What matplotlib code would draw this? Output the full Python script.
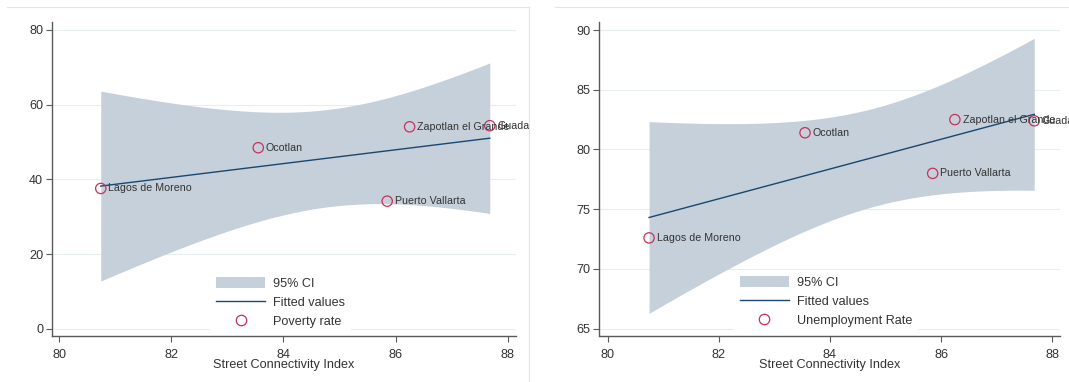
import numpy as np
import matplotlib
matplotlib.use('Agg')
import matplotlib.pyplot as plt
from matplotlib.patches import Patch, Rectangle
from matplotlib.lines import Line2D

plt.rcParams['font.family'] = ['Liberation Sans', 'DejaVu Sans']

# municipios de Jalisco
cities = ['Lagos de Moreno', 'Ocotlan', 'Zapotlan el Grande', 'Puerto Vallarta', 'Guadalajara']
connectivity = [80.74, 83.55, 86.25, 85.85, 87.68]
poverty = [37.6, 48.5, 54.1, 34.2, 54.4]
unemployment = [72.6, 81.4, 82.5, 78.0, 82.4]

x_ticks = [80, 82, 84, 86, 88]
poverty_ticks = [0, 20, 40, 60, 80]
unemployment_ticks = [65, 70, 75, 80, 85, 90]

T_CRIT = 3.182  # t(0.975) con n-2 = 3 g.l.

W, H = 1069, 382
CI_COLOR = '#c5d0db'
FIT_COLOR = '#1a476f'
MK_COLOR = '#c8305a'
GRID_COLOR = '#e6eef0'
AXIS_COLOR = '#5a5a5a'
TEXT_COLOR = '#333333'
FS = 9.1


def fit_ci(x, y, n_grid=120):
    # recta MCO con banda de confianza al 95% (como lfitci)
    x = np.asarray(x, float)
    y = np.asarray(y, float)
    n = len(x)
    b, a = np.polyfit(x, y, 1)
    resid = y - (a + b * x)
    s = np.sqrt(np.sum(resid ** 2) / (n - 2))
    sxx = np.sum((x - x.mean()) ** 2)
    xs = np.linspace(x.min(), x.max(), n_grid)
    fit = a + b * xs
    se = s * np.sqrt(1.0 / n + (xs - x.mean()) ** 2 / sxx)
    return xs, fit, fit - T_CRIT * se, fit + T_CRIT * se


def panel(fig, box, y, yticks, xlim, ylim, ylabel_name, legend_xy, clip_px):
    l, t, r, b = box
    ax = fig.add_axes([l / W, (H - b) / H, (r - l) / W, (b - t) / H])
    xs, fit, lo, hi = fit_ci(connectivity, y)
    ax.fill_between(xs, lo, hi, color=CI_COLOR, lw=0, zorder=1)
    ax.plot(xs, fit, color=FIT_COLOR, lw=1.0, zorder=2)
    ax.scatter(connectivity, y, s=55, facecolors='none', edgecolors=MK_COLOR,
               linewidths=0.9, zorder=3)

    clip = Rectangle((clip_px[0] / W, 0), (clip_px[1] - clip_px[0]) / W, 1,
                     transform=fig.transFigure)
    for name, xv, yv in zip(cities, connectivity, y):
        t_ = ax.annotate(name, (xv, yv), xytext=(5.5, 0), textcoords='offset points',
                         va='center', ha='left', fontsize=7.7, color=TEXT_COLOR,
                         zorder=4, clip_on=True)
        t_.set_clip_path(clip)

    ax.set_xlim(*xlim)
    ax.set_ylim(*ylim)
    ax.set_xticks(x_ticks)
    ax.set_yticks(yticks)
    for yt in yticks:
        ax.axhline(yt, color=GRID_COLOR, lw=0.8, zorder=0)

    for side in ['top', 'right']:
        ax.spines[side].set_visible(False)
    for side in ['left', 'bottom']:
        ax.spines[side].set_color(AXIS_COLOR)
        ax.spines[side].set_linewidth(1.0)
    ax.tick_params(direction='out', length=4, width=0.8, color=AXIS_COLOR,
                   labelsize=FS, labelcolor=TEXT_COLOR)
    ax.tick_params(axis='x', pad=5.0)
    ax.tick_params(axis='y', pad=2.4)
    ax.set_xlabel('Street Connectivity Index', fontsize=FS, color=TEXT_COLOR,
                  labelpad=-1.1)

    handles = [Patch(facecolor=CI_COLOR, edgecolor='none'),
               Line2D([], [], color=FIT_COLOR, lw=1.0),
               Line2D([], [], ls='none', marker='o', ms=7.5, mfc='none',
                      mec=MK_COLOR, mew=0.9)]
    leg = ax.legend(handles, ['95% CI', 'Fitted values', ylabel_name],
                    loc='upper left', bbox_to_anchor=legend_xy, borderaxespad=0,
                    fontsize=FS, frameon=True, fancybox=False, framealpha=1,
                    edgecolor='none', facecolor='white', borderpad=0.45,
                    handlelength=3.88, handleheight=0.95, handletextpad=0.66,
                    labelspacing=0.52, numpoints=1, labelcolor=TEXT_COLOR)
    leg.set_zorder(2.45)
    return ax


fig = plt.figure(figsize=(W / 100, H / 100), dpi=100)
fig.patch.set_facecolor('white')

panel(fig, (52, 22, 516, 336), poverty, poverty_ticks,
      (79.87, 88.148), (-1.873, 82.14), 'Poverty rate', (0.3412, 0.2066), (0, 529))
panel(fig, (599.5, 22, 1060, 336), unemployment, unemployment_ticks,
      (79.847, 88.144), (64.39, 90.67), 'Unemployment Rate', (0.2920, 0.2101), (555, W))

# marcos de cada grafico
frame_kw = dict(color='#e4e4e4', lw=0.8, transform=fig.transFigure)
fig.add_artist(Line2D([7 / W, 529 / W], [(H - 7) / H] * 2, **frame_kw))
fig.add_artist(Line2D([529 / W] * 2, [0, (H - 7) / H], **frame_kw))
fig.add_artist(Line2D([555 / W, 1], [(H - 7) / H] * 2, **frame_kw))

fig.savefig('out.png', dpi=100)
